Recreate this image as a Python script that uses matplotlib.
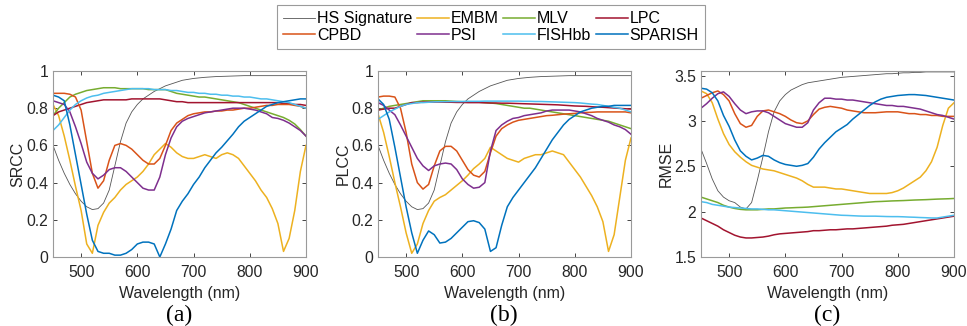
import numpy as np
import matplotlib
matplotlib.use("Agg")
import matplotlib.pyplot as plt
from matplotlib.ticker import FormatStrFormatter

plt.rcParams['font.family'] = ['Liberation Sans', 'DejaVu Sans']

# wavelength grid (nm), 10 nm steps
wl = np.arange(450, 901, 10)

# HS signature (normalised, drawn on SRCC/PLCC axes) and as drawn on RMSE axes
hs = [0.60, 0.52, 0.45, 0.39, 0.34, 0.30, 0.27, 0.255, 0.26, 0.29,
      0.36, 0.49, 0.62, 0.72, 0.78, 0.82, 0.85, 0.87, 0.89, 0.905,
      0.92, 0.93, 0.94, 0.95, 0.955, 0.96, 0.963, 0.966, 0.968, 0.97,
      0.971, 0.972, 0.973, 0.974, 0.975, 0.975, 0.975, 0.975, 0.975, 0.975,
      0.975, 0.975, 0.975, 0.975, 0.975, 0.975]
hs_rmse = [2.69, 2.53, 2.36, 2.23, 2.16, 2.12, 2.10, 2.05, 2.03, 2.10,
           2.34, 2.60, 2.88, 3.10, 3.22, 3.29, 3.34, 3.37, 3.40, 3.42,
           3.43, 3.44, 3.45, 3.46, 3.47, 3.48, 3.485, 3.49, 3.495, 3.50,
           3.505, 3.51, 3.515, 3.52, 3.52, 3.525, 3.53, 3.53, 3.535, 3.535,
           3.54, 3.54, 3.54, 3.54, 3.54, 3.54]

# ---- SRCC ----
embm_srcc = [0.82, 0.76, 0.65, 0.52, 0.38, 0.25, 0.07, 0.02, 0.17, 0.24,
             0.29, 0.32, 0.36, 0.39, 0.41, 0.43, 0.46, 0.50, 0.55, 0.58,
             0.61, 0.59, 0.56, 0.54, 0.53, 0.53, 0.54, 0.55, 0.54, 0.53,
             0.55, 0.56, 0.55, 0.53, 0.49, 0.45, 0.41, 0.36, 0.32, 0.26,
             0.18, 0.03, 0.10, 0.25, 0.46, 0.60]
mlv_srcc = [0.76, 0.80, 0.83, 0.86, 0.875, 0.885, 0.895, 0.90, 0.905, 0.91,
            0.91, 0.91, 0.905, 0.905, 0.905, 0.905, 0.905, 0.90, 0.90, 0.90,
            0.90, 0.89, 0.88, 0.875, 0.87, 0.865, 0.86, 0.86, 0.855, 0.85,
            0.845, 0.84, 0.835, 0.83, 0.82, 0.81, 0.80, 0.79, 0.78, 0.77,
            0.76, 0.75, 0.735, 0.715, 0.685, 0.65]
lpc_srcc = [0.76, 0.78, 0.79, 0.80, 0.81, 0.82, 0.83, 0.835, 0.84, 0.845,
            0.845, 0.845, 0.845, 0.845, 0.85, 0.85, 0.85, 0.85, 0.85, 0.85,
            0.845, 0.84, 0.835, 0.835, 0.83, 0.83, 0.83, 0.83, 0.83, 0.83,
            0.83, 0.83, 0.83, 0.83, 0.83, 0.83, 0.83, 0.83, 0.83, 0.83,
            0.83, 0.825, 0.825, 0.82, 0.82, 0.815]
cpbd_srcc = [0.88, 0.88, 0.88, 0.875, 0.86, 0.79, 0.62, 0.45, 0.37, 0.41,
             0.52, 0.60, 0.61, 0.60, 0.58, 0.55, 0.52, 0.50, 0.50, 0.53,
             0.60, 0.68, 0.72, 0.74, 0.76, 0.77, 0.775, 0.78, 0.78, 0.785,
             0.785, 0.79, 0.79, 0.795, 0.80, 0.80, 0.805, 0.81, 0.815, 0.815,
             0.82, 0.82, 0.82, 0.815, 0.81, 0.80]
psi_srcc = [0.84, 0.83, 0.82, 0.78, 0.70, 0.61, 0.51, 0.45, 0.42, 0.44,
            0.47, 0.48, 0.48, 0.46, 0.43, 0.40, 0.37, 0.36, 0.36, 0.43,
            0.55, 0.64, 0.70, 0.73, 0.745, 0.755, 0.765, 0.775, 0.78, 0.785,
            0.79, 0.795, 0.80, 0.80, 0.80, 0.795, 0.79, 0.78, 0.77, 0.75,
            0.745, 0.735, 0.72, 0.70, 0.68, 0.65]
fish_srcc = [0.68, 0.71, 0.75, 0.79, 0.82, 0.84, 0.855, 0.865, 0.87, 0.88,
             0.885, 0.89, 0.895, 0.90, 0.905, 0.905, 0.905, 0.905, 0.90, 0.90,
             0.90, 0.895, 0.895, 0.89, 0.885, 0.885, 0.88, 0.88, 0.875, 0.875,
             0.87, 0.87, 0.865, 0.865, 0.86, 0.86, 0.855, 0.85, 0.85, 0.845,
             0.84, 0.835, 0.83, 0.82, 0.81, 0.80]
sparish_srcc = [0.87, 0.86, 0.84, 0.71, 0.55, 0.39, 0.23, 0.09, 0.03, 0.02,
                0.02, 0.01, 0.01, 0.02, 0.04, 0.07, 0.08, 0.08, 0.07, 0.0,
                0.07, 0.15, 0.25, 0.30, 0.34, 0.39, 0.43, 0.48, 0.52, 0.56,
                0.59, 0.625, 0.66, 0.70, 0.73, 0.75, 0.77, 0.79, 0.81, 0.82,
                0.83, 0.835, 0.84, 0.845, 0.85, 0.85]

# ---- PLCC ----
embm_plcc = [0.77, 0.67, 0.54, 0.40, 0.27, 0.13, 0.02, 0.07, 0.18, 0.25,
             0.30, 0.32, 0.335, 0.36, 0.385, 0.41, 0.44, 0.475, 0.50, 0.53,
             0.59, 0.57, 0.55, 0.53, 0.52, 0.51, 0.53, 0.54, 0.55, 0.55,
             0.56, 0.57, 0.56, 0.55, 0.51, 0.47, 0.43, 0.38, 0.33, 0.27,
             0.19, 0.03, 0.12, 0.32, 0.52, 0.64]
mlv_plcc = [0.79, 0.80, 0.81, 0.815, 0.82, 0.825, 0.83, 0.835, 0.84, 0.84,
            0.84, 0.84, 0.84, 0.838, 0.836, 0.835, 0.835, 0.834, 0.832, 0.83,
            0.828, 0.825, 0.82, 0.815, 0.81, 0.805, 0.80, 0.80, 0.795, 0.79,
            0.785, 0.78, 0.775, 0.77, 0.765, 0.76, 0.755, 0.75, 0.745, 0.74,
            0.735, 0.73, 0.72, 0.71, 0.70, 0.69]
lpc_plcc = [0.79, 0.795, 0.80, 0.80, 0.81, 0.82, 0.83, 0.83, 0.833, 0.833,
            0.833, 0.833, 0.832, 0.832, 0.831, 0.831, 0.83, 0.83, 0.83, 0.829,
            0.828, 0.828, 0.827, 0.827, 0.826, 0.825, 0.824, 0.823, 0.822, 0.821,
            0.82, 0.819, 0.818, 0.816, 0.814, 0.812, 0.811, 0.81, 0.808, 0.806,
            0.805, 0.803, 0.801, 0.799, 0.797, 0.795]
cpbd_plcc = [0.86, 0.865, 0.865, 0.86, 0.80, 0.67, 0.50, 0.40, 0.365, 0.39,
             0.49, 0.57, 0.595, 0.595, 0.57, 0.52, 0.47, 0.44, 0.43, 0.46,
             0.56, 0.65, 0.69, 0.71, 0.725, 0.735, 0.74, 0.745, 0.75, 0.755,
             0.76, 0.762, 0.765, 0.768, 0.77, 0.772, 0.775, 0.777, 0.778, 0.78,
             0.78, 0.78, 0.78, 0.78, 0.78, 0.775]
psi_plcc = [0.83, 0.815, 0.79, 0.765, 0.71, 0.65, 0.59, 0.53, 0.49, 0.465,
            0.49, 0.50, 0.505, 0.50, 0.47, 0.42, 0.39, 0.37, 0.375, 0.40,
            0.57, 0.68, 0.71, 0.73, 0.745, 0.75, 0.76, 0.765, 0.77, 0.775,
            0.785, 0.79, 0.79, 0.79, 0.79, 0.785, 0.78, 0.77, 0.76, 0.745,
            0.735, 0.725, 0.71, 0.70, 0.685, 0.66]
fish_plcc = [0.74, 0.76, 0.78, 0.795, 0.81, 0.82, 0.825, 0.83, 0.83, 0.832,
             0.834, 0.835, 0.835, 0.836, 0.836, 0.836, 0.837, 0.837, 0.837, 0.838,
             0.838, 0.838, 0.838, 0.838, 0.838, 0.838, 0.837, 0.837, 0.836, 0.836,
             0.835, 0.834, 0.833, 0.832, 0.831, 0.83, 0.828, 0.825, 0.822, 0.82,
             0.815, 0.81, 0.805, 0.80, 0.79, 0.78]
sparish_plcc = [0.85, 0.82, 0.74, 0.59, 0.43, 0.27, 0.13, 0.02, 0.09, 0.14,
                0.12, 0.075, 0.08, 0.10, 0.13, 0.16, 0.19, 0.195, 0.185, 0.15,
                0.03, 0.05, 0.17, 0.27, 0.32, 0.36, 0.40, 0.44, 0.48, 0.53,
                0.58, 0.63, 0.67, 0.71, 0.74, 0.76, 0.78, 0.79, 0.80, 0.805,
                0.81, 0.81, 0.815, 0.815, 0.815, 0.815]

# ---- RMSE ----
embm_rmse = [3.33, 3.30, 3.20, 3.02, 2.86, 2.74, 2.66, 2.60, 2.55, 2.51,
             2.49, 2.47, 2.46, 2.45, 2.43, 2.41, 2.39, 2.37, 2.34, 2.30,
             2.27, 2.27, 2.27, 2.26, 2.25, 2.25, 2.24, 2.23, 2.22, 2.21,
             2.20, 2.20, 2.20, 2.20, 2.21, 2.23, 2.26, 2.30, 2.34, 2.38,
             2.45, 2.55, 2.71, 2.95, 3.14, 3.20]
mlv_rmse = [2.16, 2.14, 2.12, 2.10, 2.07, 2.05, 2.035, 2.025, 2.02, 2.02,
            2.02, 2.025, 2.03, 2.03, 2.035, 2.04, 2.042, 2.045, 2.047, 2.05,
            2.055, 2.06, 2.065, 2.07, 2.075, 2.08, 2.085, 2.09, 2.095, 2.10,
            2.105, 2.11, 2.112, 2.115, 2.118, 2.12, 2.122, 2.125, 2.128, 2.13,
            2.132, 2.135, 2.138, 2.14, 2.142, 2.145]
lpc_rmse = [1.93, 1.90, 1.87, 1.84, 1.80, 1.77, 1.74, 1.72, 1.71, 1.71,
            1.715, 1.72, 1.73, 1.745, 1.755, 1.76, 1.765, 1.77, 1.775, 1.78,
            1.79, 1.79, 1.795, 1.80, 1.80, 1.805, 1.81, 1.81, 1.815, 1.82,
            1.825, 1.83, 1.835, 1.84, 1.85, 1.855, 1.86, 1.87, 1.88, 1.89,
            1.90, 1.91, 1.92, 1.93, 1.94, 1.95]
cpbd_rmse = [3.25, 3.28, 3.31, 3.33, 3.29, 3.22, 3.08, 2.97, 2.93, 2.95,
             3.05, 3.11, 3.12, 3.10, 3.08, 3.05, 3.01, 2.98, 2.97, 3.00,
             3.07, 3.13, 3.15, 3.16, 3.15, 3.14, 3.12, 3.11, 3.10, 3.09,
             3.09, 3.09, 3.095, 3.10, 3.10, 3.10, 3.09, 3.08, 3.08, 3.07,
             3.07, 3.06, 3.06, 3.05, 3.05, 3.05]
psi_rmse = [3.14, 3.19, 3.25, 3.30, 3.32, 3.27, 3.19, 3.12, 3.08, 3.10,
            3.11, 3.11, 3.09, 3.05, 3.01, 2.97, 2.95, 2.93, 2.93, 2.98,
            3.12, 3.20, 3.25, 3.25, 3.24, 3.24, 3.23, 3.23, 3.22, 3.21,
            3.20, 3.19, 3.18, 3.17, 3.17, 3.16, 3.16, 3.15, 3.14, 3.13,
            3.11, 3.09, 3.07, 3.06, 3.04, 3.02]
fish_rmse = [2.11, 2.10, 2.08, 2.07, 2.06, 2.05, 2.045, 2.04, 2.035, 2.03,
             2.03, 2.025, 2.02, 2.02, 2.015, 2.01, 2.005, 2.0, 1.995, 1.99,
             1.985, 1.98, 1.975, 1.97, 1.965, 1.96, 1.958, 1.955, 1.952, 1.95,
             1.95, 1.95, 1.948, 1.946, 1.945, 1.945, 1.943, 1.94, 1.938, 1.935,
             1.933, 1.93, 1.93, 1.94, 1.95, 1.96]
sparish_rmse = [3.36, 3.35, 3.31, 3.22, 3.06, 2.94, 2.79, 2.67, 2.61, 2.57,
                2.59, 2.62, 2.61, 2.57, 2.54, 2.52, 2.51, 2.50, 2.51, 2.53,
                2.60, 2.69, 2.76, 2.82, 2.88, 2.92, 2.96, 3.02, 3.07, 3.12,
                3.17, 3.21, 3.24, 3.26, 3.27, 3.28, 3.285, 3.29, 3.29, 3.285,
                3.28, 3.27, 3.26, 3.25, 3.24, 3.23]

names = ['HS Signature', 'EMBM', 'MLV', 'LPC', 'CPBD', 'PSI', 'FISHbb', 'SPARISH']
colors = ['#555555', '#EDB120', '#77AC30', '#A2142F', '#D95319', '#7E2F8E', '#4DBEEE', '#0072BD']
widths = [0.6, 1.1, 1.1, 1.1, 1.1, 1.1, 1.1, 1.1]

panels = [
    ('SRCC', [hs, embm_srcc, mlv_srcc, lpc_srcc, cpbd_srcc, psi_srcc, fish_srcc, sparish_srcc],
     (0, 1), [0, 0.2, 0.4, 0.6, 0.8, 1], '(a)', 53),
    ('PLCC', [hs, embm_plcc, mlv_plcc, lpc_plcc, cpbd_plcc, psi_plcc, fish_plcc, sparish_plcc],
     (0, 1), [0, 0.2, 0.4, 0.6, 0.8, 1], '(b)', 378),
    ('RMSE', [hs_rmse, embm_rmse, mlv_rmse, lpc_rmse, cpbd_rmse, psi_rmse, fish_rmse, sparish_rmse],
     (1.5, 3.55), [1.5, 2, 2.5, 3, 3.5], '(c)', 701),
]

W, H = 967, 326
fig = plt.figure(figsize=(W / 100, H / 100), dpi=100)

handles = []
for ylab, series, ylim, yticks, tag, left in panels:
    ax = fig.add_axes([left / W, 69 / H, 253 / W, 186 / H])
    lines = []
    for s, c, lw, n in zip(series, colors, widths, names):
        ln, = ax.plot(wl, s, color=c, lw=lw, label=n)
        lines.append(ln)
    handles = lines
    ax.set_xlim(450, 900)
    ax.set_ylim(*ylim)
    ax.set_xticks([500, 600, 700, 800, 900])
    ax.set_yticks(yticks)
    ax.yaxis.set_major_formatter(FormatStrFormatter('%g'))
    ax.tick_params(direction='in', top=True, right=True, length=3,
                   labelsize=11.3, colors='#262626', width=0.6)
    ax.tick_params(axis='x', pad=6)
    for sp in ax.spines.values():
        sp.set_color('#9a9a9a')
        sp.set_linewidth(0.8)
    ax.set_xlabel('Wavelength (nm)', fontsize=11.5, color='#262626', labelpad=4)
    ax.set_ylabel(ylab, fontsize=11.5, color='#262626', labelpad=0.5)
    fig.text((left + 126) / W, 1 - 315 / H, tag, ha='center', va='center',
             fontsize=17, family=['Liberation Serif', 'DejaVu Serif'])

# legend fills column-wise, so reorder to get the row layout of the reference
order = [0, 4, 1, 5, 2, 6, 3, 7]
leg = fig.legend([handles[i] for i in order], [names[i] for i in order],
                 ncol=4, loc='center', bbox_to_anchor=(491 / W, 1 - 27 / H),
                 fontsize=11.5, frameon=True, fancybox=False, framealpha=1,
                 handlelength=2.0, handletextpad=0.1, columnspacing=0.3,
                 borderpad=0.4, labelspacing=0.1, borderaxespad=0)
leg.get_frame().set_edgecolor('#9a9a9a')
leg.get_frame().set_linewidth(0.8)

fig.savefig('out.png', dpi=100)
